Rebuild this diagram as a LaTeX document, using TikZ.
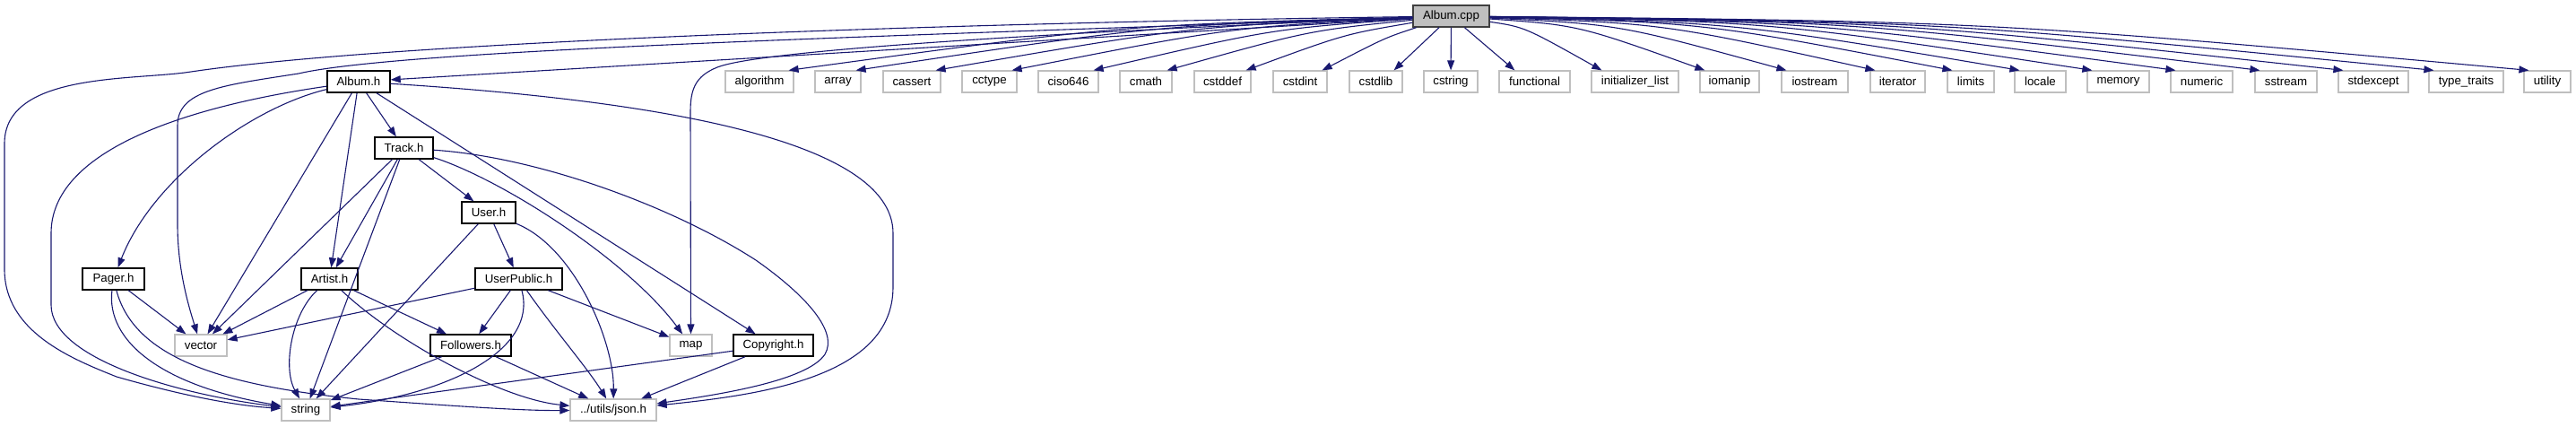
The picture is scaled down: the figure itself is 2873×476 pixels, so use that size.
\documentclass[tikz,border=0pt]{standalone}
\usepackage{fontspec}
\setmainfont{Liberation Sans}
\usetikzlibrary{arrows.meta}
\definecolor{edgecol}{HTML}{191970}
\definecolor{sysgray}{HTML}{BFBFBF}
\begin{document}
\begin{tikzpicture}[x=1pt,y=-1pt,
  base/.style={draw, rectangle, minimum height=24pt, inner sep=0pt, font=\fontsize{13.3}{15}\selectfont, line width=1.2pt},
  proj/.style={base, draw=black, fill=white, line width=1.4pt},
  sys/.style={base, draw=sysgray, fill=white},
  root/.style={base, draw=black!75, fill=sysgray, line width=1.4pt},
  dep/.style={draw=edgecol, line width=1.1pt, -{Triangle[length=11pt,width=8pt]}},
]
\useasboundingbox (0,0) rectangle (2873,476);
% root
\node[root, minimum width=85pt] (cpp) at (1618.5,18) {Album.cpp};
% system headers row
\node[sys, minimum width=76pt] (algorithm) at (847,91) {algorithm};
\node[sys, minimum width=51pt] (array) at (934.5,91) {array};
\node[sys, minimum width=64pt] (cassert) at (1017,91) {cassert};
\node[sys, minimum width=61pt] (cctype) at (1103.5,91) {cctype};
\node[sys, minimum width=67pt] (ciso) at (1191.5,91) {ciso646};
\node[sys, minimum width=58pt] (cmath) at (1278,91) {cmath};
\node[sys, minimum width=63pt] (cstddef) at (1363.5,91) {cstddef};
\node[sys, minimum width=60pt] (cstdint) at (1450,91) {cstdint};
\node[sys, minimum width=59pt] (cstdlib) at (1534.5,91) {cstdlib};
\node[sys, minimum width=60pt] (cstring) at (1618,91) {cstring};
\node[sys, minimum width=79pt] (functional) at (1711.5,91) {functional};
\node[sys, minimum width=97pt] (initlist) at (1823.5,91) {initializer\_list};
\node[sys, minimum width=66pt] (iomanip) at (1929,91) {iomanip};
\node[sys, minimum width=74pt] (iostream) at (2024,91) {iostream};
\node[sys, minimum width=61pt] (iterator) at (2116.5,91) {iterator};
\node[sys, minimum width=52pt] (limits) at (2198,91) {limits};
\node[sys, minimum width=57pt] (locale) at (2275.5,91) {locale};
\node[sys, minimum width=69pt] (memory) at (2362.5,91) {memory};
\node[sys, minimum width=69pt] (numeric) at (2455.5,91) {numeric};
\node[sys, minimum width=69pt] (sstream) at (2549.5,91) {sstream};
\node[sys, minimum width=78pt] (stdexcept) at (2647,91) {stdexcept};
\node[sys, minimum width=83pt] (typetraits) at (2750.5,91) {type\_traits};
\node[sys, minimum width=52pt] (utility) at (2841,91) {utility};
% project headers
\node[proj, minimum width=70pt] (albumh) at (400,91) {Album.h};
\node[proj, minimum width=65pt] (trackh) at (450.5,165) {Track.h};
\node[proj, minimum width=60pt] (userh) at (545,237) {User.h};
\node[proj, minimum width=69pt] (pagerh) at (126.5,311) {Pager.h};
\node[proj, minimum width=63pt] (artisth) at (367.5,311) {Artist.h};
\node[proj, minimum width=97pt] (userpublich) at (578.5,311) {UserPublic.h};
\node[sys, minimum width=58pt] (vector) at (224,385) {vector};
\node[proj, minimum width=90pt] (followersh) at (525,385) {Followers.h};
\node[sys, minimum width=47pt] (map) at (770.5,385) {map};
\node[proj, minimum width=89pt] (copyrighth) at (862.5,385) {Copyright.h};
\node[sys, minimum width=54pt] (string) at (341,457) {string};
\node[sys, minimum width=96pt] (jsonh) at (684,457) {../utils/json.h};

% Album.cpp edges
\draw[dep] (cpp) -- (albumh);
\draw[dep] (cpp) .. controls (1100,25) and (450,45) .. (213,80) .. controls (150,90) and (5,80) .. (5,160) -- (5,300) .. controls (5,370) and (80,400) .. (130,420) .. controls (200,440) and (260,452) .. (string);
\draw[dep] (cpp) .. controls (1000,40) and (450,55) .. (333,82) .. controls (250,95) and (198,100) .. (198,140) -- (198,250) .. controls (198,300) and (210,340) .. (vector);
\draw[dep] (cpp) .. controls (1200,35) and (850,55) .. (800,75) .. controls (775,85) and (770,100) .. (770,125) -- (map);
\draw[dep] (cpp) .. controls (1250,28) .. ([xshift=-6pt]algorithm.north east);
\draw[dep] (cpp) .. controls (1290,28) .. ([xshift=-6pt]array.north east);
\draw[dep] (cpp) .. controls (1330,29) .. ([xshift=-6pt]cassert.north east);
\draw[dep] (cpp) .. controls (1375,30) .. ([xshift=-6pt]cctype.north east);
\draw[dep] (cpp) .. controls (1420,32) .. ([xshift=-6pt]ciso.north east);
\draw[dep] (cpp) .. controls (1460,34) .. ([xshift=-6pt]cmath.north east);
\draw[dep] (cpp) .. controls (1500,38) .. ([xshift=-6pt]cstddef.north east);
\draw[dep] (cpp) .. controls (1545,42) .. ([xshift=-6pt]cstdint.north east);
\draw[dep] (cpp) -- ([xshift=-10pt]cstdlib.north east);
\draw[dep] (cpp) -- (cstring);
\draw[dep] (cpp) -- ([xshift=18pt]functional.north west);
\draw[dep] (cpp) .. controls (1700,30) .. ([xshift=12pt]initlist.north west);
\draw[dep] (cpp) .. controls (1760,28) .. ([xshift=6pt]iomanip.north west);
\draw[dep] (cpp) .. controls (1805,27) .. ([xshift=6pt]iostream.north west);
\draw[dep] (cpp) .. controls (1855,26) .. ([xshift=6pt]iterator.north west);
\draw[dep] (cpp) .. controls (1900,25) .. ([xshift=6pt]limits.north west);
\draw[dep] (cpp) .. controls (1935,25) .. ([xshift=6pt]locale.north west);
\draw[dep] (cpp) .. controls (1975,24) .. ([xshift=6pt]memory.north west);
\draw[dep] (cpp) .. controls (2020,24) .. ([xshift=6pt]numeric.north west);
\draw[dep] (cpp) .. controls (2070,24) .. ([xshift=6pt]sstream.north west);
\draw[dep] (cpp) .. controls (2115,24) .. ([xshift=6pt]stdexcept.north west);
\draw[dep] (cpp) .. controls (2165,24) .. ([xshift=6pt]typetraits.north west);
\draw[dep] (cpp) .. controls (2220,24) .. ([xshift=6pt]utility.north west);

% Album.h edges
\draw[dep] (albumh) -- (trackh);
\draw[dep] (albumh) -- (artisth);
\draw[dep] (albumh) -- (vector);
\draw[dep] (albumh) .. controls (280,120) and (170,200) .. (pagerh);
\draw[dep] (albumh) .. controls (200,120) and (57,170) .. (57,260) -- (57,340) .. controls (57,400) and (200,440) .. (string);
\draw[dep] (albumh) -- (copyrighth);
\draw[dep] (albumh) .. controls (700,110) and (996,150) .. (996,260) -- (996,320) .. controls (996,420) and (850,440) .. (jsonh);

% Track.h edges
\draw[dep] (trackh) -- (userh);
\draw[dep] (trackh) -- (artisth);
\draw[dep] (trackh) -- (vector);
\draw[dep] (trackh) -- (string);
\draw[dep] (trackh) .. controls (560,200) and (700,290) .. (map);
\draw[dep] (trackh) .. controls (600,175) and (750,230) .. (843,290) .. controls (900,330) and (935,370) .. (920,395) .. controls (900,425) and (800,440) .. (jsonh);

% User.h edges
\draw[dep] (userh) -- (userpublich);
\draw[dep] (userh) -- (string);
\draw[dep] (userh) .. controls (640,275) and (685,380) .. (jsonh);

% UserPublic.h edges
\draw[dep] (userpublich) -- (vector);
\draw[dep] (userpublich) -- (followersh);
\draw[dep] (userpublich) -- (map);
\draw[dep] (userpublich) .. controls (600,390) and (500,440) .. (string);
\draw[dep] (userpublich) .. controls (620,370) and (655,410) .. (jsonh);

% Artist.h edges
\draw[dep] (artisth) -- (vector);
\draw[dep] (artisth) .. controls (325,350) and (315,410) .. (string);
\draw[dep] (artisth) -- (followersh);
\draw[dep] (artisth) .. controls (440,380) and (560,445) .. (jsonh);

% Pager.h edges
\draw[dep] (pagerh) -- (vector);
\draw[dep] (pagerh) .. controls (118,380) and (180,430) .. (string);
\draw[dep] (pagerh) .. controls (150,400) and (250,430) .. (400,445) .. controls (500,452) and (580,458) .. (jsonh);

% Followers.h edges
\draw[dep] (followersh) -- (string);
\draw[dep] (followersh) -- (jsonh);

% Copyright.h edges
\draw[dep] (copyrighth) -- (string);
\draw[dep] (copyrighth) -- (jsonh);
\end{tikzpicture}
\end{document}
